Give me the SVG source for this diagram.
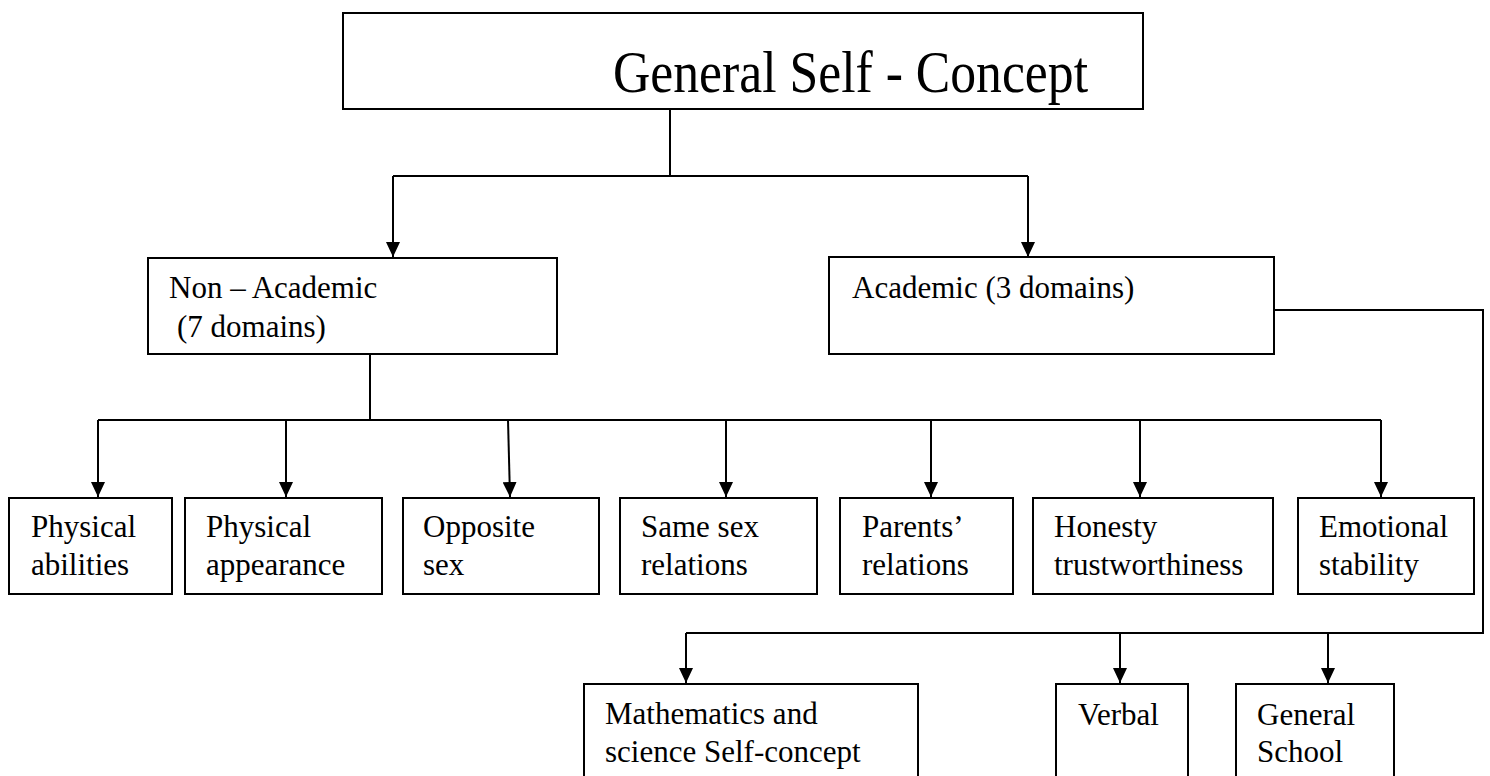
<svg xmlns="http://www.w3.org/2000/svg" width="1490" height="776" viewBox="0 0 1490 776">
  <style>
    .box { fill: #ffffff; stroke: #000000; stroke-width: 2; }
    .lbl { font-family: "Liberation Serif", "Times New Roman", serif; font-size: 31px; fill: #000000; }
    .title { font-family: "Liberation Serif", "Times New Roman", serif; font-size: 60px; fill: #000000; }
    .wire { fill: none; stroke: #000000; stroke-width: 2; }
    .arrow { fill: none; stroke: #000000; stroke-width: 2; marker-end: url(#head); }
  </style>
  <defs>
    <marker id="head" viewBox="0 0 15 14" markerWidth="15" markerHeight="14" refX="15" refY="7" orient="auto" markerUnits="userSpaceOnUse">
      <path d="M0,0 L15,7 L0,14 Z" fill="#000000"/>
    </marker>
  </defs>
  <rect width="1490" height="776" fill="#ffffff"/>

  <!-- connectors -->
  <g id="connectors">
    <!-- root to the two main branches -->
    <path class="wire" d="M670,109 V176 M393,176 H1028"/>
    <path class="arrow" d="M393,176 V257"/>
    <path class="arrow" d="M1028,176 V257"/>
    <!-- non-academic fan-out -->
    <path class="wire" d="M370,354 V420 M98,420 H1381"/>
    <path class="arrow" d="M98,420 V497"/>
    <path class="arrow" d="M286,420 V497"/>
    <path class="arrow" d="M508,420 L510,497"/>
    <path class="arrow" d="M726,420 V497"/>
    <path class="arrow" d="M931,420 V497"/>
    <path class="arrow" d="M1140,420 V497"/>
    <path class="arrow" d="M1381,420 V497"/>
    <!-- academic fan-out -->
    <path class="wire" d="M1274,310 H1483 V633 H686"/>
    <path class="arrow" d="M686,633 V683"/>
    <path class="arrow" d="M1120,633 V683"/>
    <path class="arrow" d="M1328,633 V683"/>
  </g>

  <g id="general-self-concept">
    <rect class="box" x="343" y="13" width="800" height="96"/>
    <text class="title" x="613" y="92" textLength="475" lengthAdjust="spacingAndGlyphs">General Self - Concept</text>
  </g>

  <g id="non-academic">
    <rect class="box" x="148" y="258" width="409" height="96"/>
    <text class="lbl" x="169" y="298">Non – Academic</text>
    <text class="lbl" x="177" y="337">(7 domains)</text>
  </g>

  <g id="academic">
    <rect class="box" x="829" y="257" width="445" height="97"/>
    <text class="lbl" x="852" y="298">Academic (3 domains)</text>
  </g>

  <g id="physical-abilities">
    <rect class="box" x="9" y="498" width="163" height="96"/>
    <text class="lbl" x="31" y="537">Physical</text>
    <text class="lbl" x="31" y="575">abilities</text>
  </g>

  <g id="physical-appearance">
    <rect class="box" x="185" y="498" width="197" height="96"/>
    <text class="lbl" x="206" y="537">Physical</text>
    <text class="lbl" x="206" y="575">appearance</text>
  </g>

  <g id="opposite-sex">
    <rect class="box" x="403" y="498" width="196" height="96"/>
    <text class="lbl" x="423" y="537">Opposite</text>
    <text class="lbl" x="423" y="575">sex</text>
  </g>

  <g id="same-sex-relations">
    <rect class="box" x="620" y="498" width="197" height="96"/>
    <text class="lbl" x="641" y="537">Same sex</text>
    <text class="lbl" x="641" y="575">relations</text>
  </g>

  <g id="parents-relations">
    <rect class="box" x="840" y="498" width="173" height="96"/>
    <text class="lbl" x="862" y="537">Parents’</text>
    <text class="lbl" x="862" y="575">relations</text>
  </g>

  <g id="honesty-trustworthiness">
    <rect class="box" x="1033" y="498" width="240" height="96"/>
    <text class="lbl" x="1054" y="537">Honesty</text>
    <text class="lbl" x="1054" y="575">trustworthiness</text>
  </g>

  <g id="emotional-stability">
    <rect class="box" x="1298" y="498" width="176" height="96"/>
    <text class="lbl" x="1319" y="537">Emotional</text>
    <text class="lbl" x="1319" y="575">stability</text>
  </g>

  <g id="mathematics-science">
    <rect class="box" x="584" y="684" width="334" height="110"/>
    <text class="lbl" x="605" y="724">Mathematics and</text>
    <text class="lbl" x="605" y="762">science Self-concept</text>
  </g>

  <g id="verbal">
    <rect class="box" x="1056" y="684" width="132" height="110"/>
    <text class="lbl" x="1078" y="725">Verbal</text>
  </g>

  <g id="general-school">
    <rect class="box" x="1236" y="684" width="158" height="110"/>
    <text class="lbl" x="1257" y="725">General</text>
    <text class="lbl" x="1257" y="762">School</text>
  </g>
</svg>
